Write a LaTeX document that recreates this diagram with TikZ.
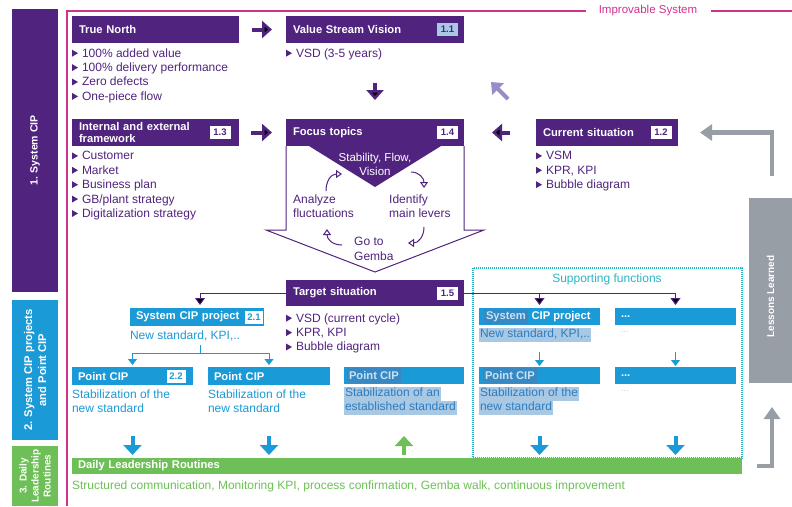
\documentclass[tikz,border=0pt]{standalone}
\usepackage{fontspec}
\setmainfont{Liberation Sans}
\usetikzlibrary{arrows.meta,calc}

\definecolor{purp}{HTML}{50237F}
\definecolor{cblue}{HTML}{1A9AD6}
\definecolor{cgreen}{HTML}{6EBF57}
\definecolor{cgray}{HTML}{989EA6}
\definecolor{mag}{HTML}{D3318E}
\definecolor{lpurp}{HTML}{9A8CC4}
\definecolor{cteal}{HTML}{27B6C7}
\definecolor{selbg}{HTML}{A8C8E3}
\definecolor{seltext}{HTML}{2E7DC0}
\definecolor{selhead}{HTML}{3889C3}
\definecolor{selheadtext}{HTML}{C8E2F3}
\definecolor{paleblue}{HTML}{A6D4EE}

\newcommand\hfont{\bfseries\fontsize{11.2}{12.5}\selectfont}
\newcommand\lfont{\fontsize{12}{14.4}\selectfont}
\newcommand\sfont{\fontsize{12}{14}\selectfont}
\newcommand\bdgfont{\bfseries\fontsize{9.5}{10}\selectfont}
\newcommand\colfont{\bfseries\fontsize{10.5}{13.5}\selectfont}
\newcommand\tri{\tikz[x=1pt,y=1pt,baseline=-0.5pt]\fill (0,0)--(0,7)--(6,3.5)--cycle;\hspace{4pt}}

\begin{document}
\begin{tikzpicture}[x=1pt,y=-1pt,
  box/.style={anchor=north west, inner sep=0pt, outer sep=0pt},
  phead/.style={box, fill=purp, text=white, font=\hfont, minimum height=27pt, text width=#1, align=left, inner xsep=7pt},
  bhead/.style={box, fill=cblue, text=white, font=\hfont, minimum height=18pt, text width=#1, align=left, inner xsep=6pt},
  badge/.style={fill=white, text=purp, font=\bdgfont, inner sep=0pt, minimum width=21pt, minimum height=13pt},
  blist/.style={box, text=purp, font=\lfont, align=left},
  btext/.style={box, text=cblue, font=\sfont, align=left},
  seltxt/.style={box, fill=selbg, text=seltext, font=\sfont, inner xsep=1pt},
  selhd/.style={box, fill=selhead, text=selheadtext, font=\hfont, minimum height=15pt, inner xsep=2pt},
  colbar/.style={box, minimum width=46pt},
  coltext/.style={text=white, font=\colfont, rotate=90, align=center, inner sep=0pt},
  parrow/.style={draw=purp, line width=4pt, -{Triangle[length=10pt,width=17pt]}},
  garrow/.style={draw=cgray, line width=4.5pt, -{Triangle[length=12pt,width=16pt]}},
  barrow/.style={draw=cblue, line width=4pt, -{Triangle[length=10pt,width=18pt]}},
  gnarrow/.style={draw=cgreen, line width=4pt, -{Triangle[length=10pt,width=18pt]}},
  thinp/.style={draw=purp, line width=0.9pt},
  thinb/.style={draw=cblue, line width=0.9pt},
  carrow/.style={draw=purp, line width=1pt, -{Triangle[open, length=6pt, width=8pt]}},
]
\useasboundingbox (0,0) rectangle (792,506);

% ---- phase column on the left
\node[colbar, fill=purp, minimum height=283pt] (c1) at (12,9) {};
\node[coltext] (c1t) at (c1.center) {1. System CIP};
\node[colbar, fill=cblue, minimum height=140pt] (c2) at (12,300) {};
\node[coltext, font=\bfseries\fontsize{11.2}{14}\selectfont] (c2t) at (c2.center) {2. System CIP projects\\and Point CIP};
\node[colbar, fill=cgreen, minimum height=60pt] (c3) at (12,446) {};
\node[coltext, font=\bfseries\fontsize{10}{12}\selectfont] (c3t) at (c3.center) {3. Daily\\Leadership\\Routines};

% ---- improvable system frame
\node[text=mag, font=\fontsize{11.5}{14}\selectfont, inner sep=0pt] (imp) at (648,11) {Improvable System};
\draw[mag, line width=1.5pt] (67,506) |- ([xshift=-13pt]imp.west);
\draw[mag, line width=1.5pt] ([xshift=14pt]imp.east) -- (792,11);

% ---- row 1
\node[phead=153pt] (tn) at (72,16) {True North};
\node[blist] (tnl) at (72,48.5) {\tri 100\% added value\\\tri 100\% delivery performance\\\tri Zero defects\\\tri One-piece flow};

\node[phead=164pt] (vsv) at (286,16) {Value Stream Vision};
\node[badge, fill=selbg] (b11) at ([xshift=-16.5pt]vsv.east) {1.1};
\node[blist] (vsvl) at (286,48.5) {\tri VSD (3-5 years)};
\draw[parrow, shorten <=13pt, shorten >=14pt] (tn.east) -- (vsv.west);

% ---- row 2
\node[phead=153pt] (ief) at (72,119) {Internal and external\\framework};
\node[badge] (b13) at ([xshift=-19pt]ief.east) {1.3};
\node[blist] (iefl) at (72,151.5) {\tri Customer\\\tri Market\\\tri Business plan\\\tri GB/plant strategy\\\tri Digitalization strategy};

\node[phead=164pt] (ft) at (286,119) {Focus topics};
\node[badge] (b14) at ([xshift=-16.5pt]ft.east) {1.4};
\draw[purp, line width=1pt, fill=white] (ft.south west) -- ++(0,84) -- ++(-20,0)
  -- ($(ft.south)+(0,126)$) -- ($(ft.south east)+(20,84)$) -- ++(-20,0) -- (ft.south east);
\fill[purp] ($(ft.south)+(-66,0)$) -- ($(ft.south)+(66,0)$) -- ($(ft.south)+(0,41)$) -- cycle;
\node[text=white, font=\fontsize{11.5}{14}\selectfont, align=center, inner sep=0pt] (sfv) at (375,164.5) {Stability, Flow,\\Vision};
\node[text=purp, font=\lfont, align=left, inner sep=0pt, anchor=west] (anl) at (293,206) {Analyze\\fluctuations};
\node[text=purp, font=\lfont, align=left, inner sep=0pt, anchor=west] (idl) at (389,206) {Identify\\main levers};
\node[text=purp, font=\lfont, align=left, inner sep=0pt, anchor=west] (gtg) at (354,249) {Go to\\Gemba};

% cycle arrows around the focus topics
\coordinate (k1a) at (326,191); \coordinate (k1b) at (342,174);
\draw[carrow] (k1a) .. controls (326,181) and (331,174) .. (k1b);
\coordinate (k2a) at (411,172); \coordinate (k2b) at (424,188);
\draw[carrow] (k2a) .. controls (419,172) and (424,178) .. (k2b);
\coordinate (k3a) at (424,227); \coordinate (k3b) at (408,243);
\draw[carrow] (k3a) .. controls (424,237) and (418,243) .. (k3b);
\coordinate (k4a) at (342,245); \coordinate (k4b) at (327,229);
\draw[carrow] (k4a) .. controls (332,245) and (327,239) .. (k4b);

\node[phead=128pt] (cs) at (536,119) {Current situation};
\node[badge] (b12) at ([xshift=-17pt]cs.east) {1.2};
\node[blist] (csl) at (536,151.5) {\tri VSM\\\tri KPR, KPI\\\tri Bubble diagram};

\draw[parrow, shorten <=40pt, shorten >=19pt] (vsv.south) -- (ft.north);
\draw[parrow, shorten <=12pt, shorten >=14pt] (ief.east) -- (ft.west);
\draw[parrow, shorten <=26pt, shorten >=28pt] (cs.west) -- (ft.east);
\coordinate (dg0) at (508,99); \coordinate (dg1) at (491,82);
\draw[draw=lpurp, line width=4pt, -{Triangle[length=10pt,width=16pt]}] (dg0) -- (dg1);

% ---- lessons learned
\node[box, fill=cgray, minimum width=43pt, minimum height=185pt] (ll) at (749,198) {};
\node[text=white, font=\bfseries\fontsize{10}{12}\selectfont, rotate=90, inner sep=0pt] (llt) at ([yshift=-6pt]ll.center) {Lessons Learned};
\draw[garrow, shorten >=22pt] ($(ll.north)+(1.5,-22)$) |- (cs.east);

% ---- supporting functions frame
\draw[cteal, line width=1.2pt, dash pattern=on 1pt off 1pt] (473,268) rectangle (742,458);
\node[text=cteal, font=\sfont, inner sep=0pt] (sft) at (607,279) {Supporting functions};

% ---- CIP projects
\node[bhead=122pt] (scp) at (130,308) {System CIP project};
\node[badge, text=cblue, minimum width=18pt] (b21) at ([xshift=-10pt]scp.east) {2.1};
\node[btext] (scpt) at (130,331) {New standard, KPI,..};

\node[bhead=109pt, minimum height=17pt] (scpR) at (479,308) {};
\node[selhd] (scpRh) at (484,309) {System};
\node[anchor=west, text=white, font=\hfont, inner sep=0pt] (scpRr) at ([xshift=3.5pt]scpRh.east) {CIP project};
\node[seltxt] (scpRt) at (479,328) {\strut New standard, KPI,..};
\node[bhead=109pt, minimum height=17pt] (dt1) at (615,308) {...};
\node[box, text=paleblue, font=\fontsize{9}{11}\selectfont] (dt1t) at (621,332) {...};

% distribution line from the target situation
\coordinate (j1) at (200,293); \coordinate (j2) at (539.5,293); \coordinate (j3) at (675.5,293);
\draw[thinp] (j1) -- (j3);
\draw[thinp, -{Triangle[length=7pt,width=10pt]}, shorten >=3pt] (j1) -- (j1 |- scp.north);
\draw[thinp, -{Triangle[length=7pt,width=10pt]}, shorten >=3pt] (j2) -- (scpR.north);
\draw[thinp, -{Triangle[length=7pt,width=10pt]}, shorten >=3pt] (j3) -- (dt1.north);

\node[phead=164pt, minimum height=26pt] (ts) at (286,280) {Target situation};
\node[badge] (b15) at ([xshift=-16.5pt]ts.east) {1.5};
\node[blist] (tsl) at (286,313.5) {\tri VSD (current cycle)\\\tri KPR, KPI\\\tri Bubble diagram};

% ---- point CIP
\node[bhead=109pt] (pc1) at (72,367) {Point CIP};
\node[badge, text=cblue, minimum width=19pt] (b22) at ([xshift=-17pt]pc1.east) {2.2};
\node[btext] (pc1t) at (72,390) {Stabilization of the\\new standard};
\node[bhead=110pt] (pc2) at (208,367) {Point CIP};
\node[btext] (pc2t) at (208,390) {Stabilization of the\\new standard};

\coordinate (t0) at (200,345); \coordinate (t1) at (200,353);
\draw[thinb] (t0) -- (t1);
\draw[thinb, -{Triangle[length=6pt,width=9pt]}, shorten >=2pt] (t1) -| (pc1.north);
\draw[thinb, -{Triangle[length=6pt,width=9pt]}, shorten >=2pt] (t1) -| (pc2.north);

\node[bhead=108pt, minimum height=17pt] (pc3) at (344,367) {};
\node[selhd] (pc3h) at (347,368) {Point CIP};
\node[seltxt] (pc3a) at (344,387) {\strut Stabilization of an};
\node[seltxt] (pc3b) at (344,401) {\strut established standard};

\node[bhead=109pt, minimum height=17pt] (pcR) at (479,367) {};
\node[selhd] (pcRh) at (483,368) {Point CIP};
\node[seltxt] (pcRa) at (479,387) {\strut Stabilization of the};
\node[seltxt] (pcRb) at (479,401) {\strut new standard};
\node[bhead=109pt, minimum height=17pt] (dt2) at (615,367) {...};
\node[box, text=paleblue, font=\fontsize{9}{11}\selectfont] (dt2t) at (621,391) {...};

\coordinate (r1) at (539.5,352); \coordinate (r2) at (675.5,352);
\draw[thinb, -{Triangle[length=6pt,width=9pt]}, shorten >=1pt] (r1) -- (pcR.north);
\draw[thinb, -{Triangle[length=6pt,width=9pt]}, shorten >=1pt] (r2) -- (dt2.north);

% ---- daily leadership routines
\node[box, fill=cgreen, text=white, font=\hfont, minimum height=16pt, text width=658pt, inner xsep=6pt, align=left] (dlr) at (72,458) {Daily Leadership Routines};
\node[box, text=cgreen, font=\sfont] (dlrt) at (72,480.5) {Structured communication, Monitoring KPI, process confirmation, Gemba walk, continuous improvement};

\coordinate (atop) at (0,436);
\foreach \n in {pc1,pc2,pcR,dt2}
  \draw[barrow, shorten >=3pt] (\n.south |- atop) -- (\n.south |- dlr.north);
\draw[gnarrow, shorten <=3pt] (pc3.south |- dlr.north) -- (pc3.south |- atop);

\draw[garrow, shorten <=15pt, shorten >=24pt] (dlr.east) -| ($(ll.south)+(1.5,0)$);
\end{tikzpicture}
\end{document}
